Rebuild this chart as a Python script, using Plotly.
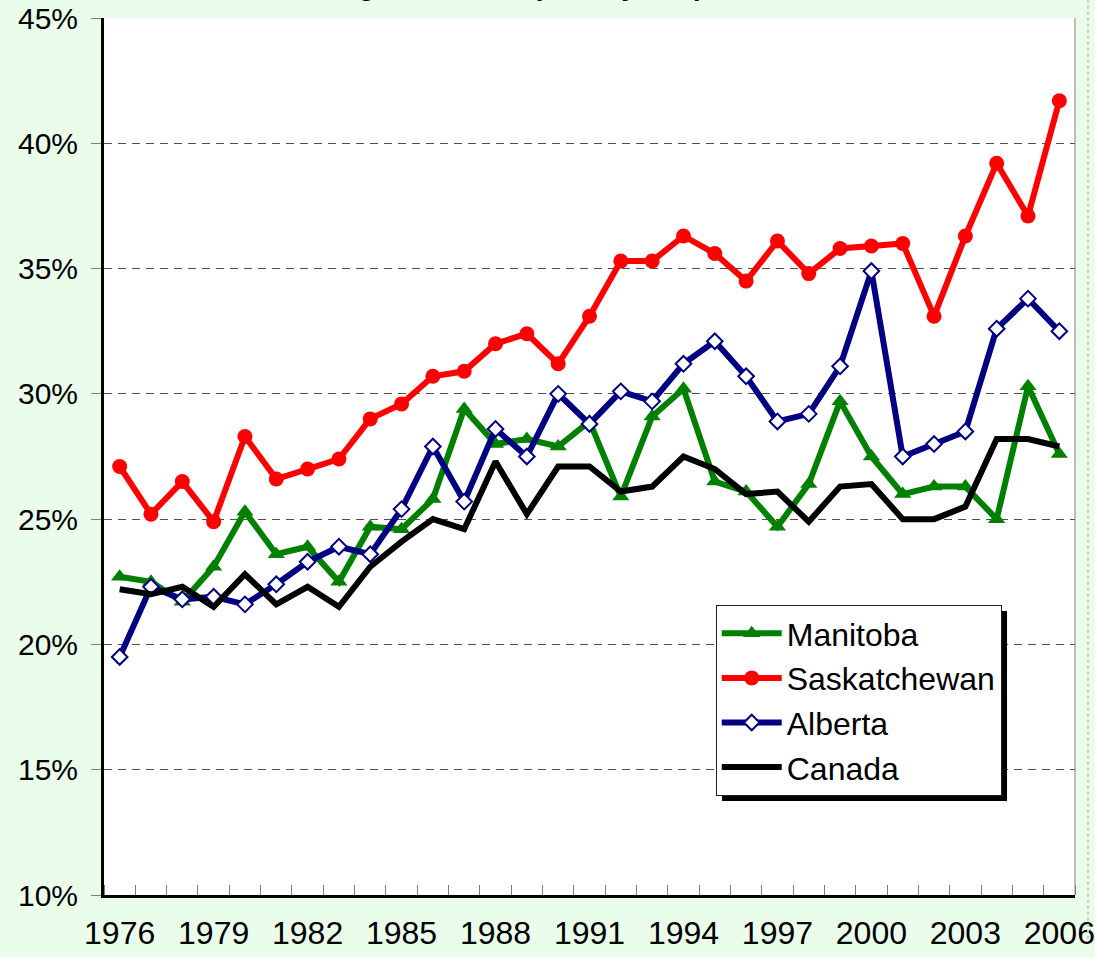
import plotly.graph_objects as go

years = list(range(1976, 2007))

manitoba = [22.7, 22.5, 21.7, 23.1, 25.3, 23.6, 23.9, 22.5, 24.7, 24.6, 25.8,
            29.4, 28.0, 28.2, 27.9, 28.9, 25.9, 29.1, 30.2, 26.5, 26.1,
            24.7, 26.4, 29.7, 27.5, 26.0, 26.3, 26.3, 25.0, 30.3, 27.6]
saskatchewan = [27.1, 25.2, 26.5, 24.9, 28.3, 26.6, 27.0, 27.4, 29.0, 29.6, 30.7,
                30.9, 32.0, 32.4, 31.2, 33.1, 35.3, 35.3, 36.3, 35.6, 34.5,
                36.1, 34.8, 35.8, 35.9, 36.0, 33.1, 36.3, 39.2, 37.1, 41.7]
alberta = [19.5, 22.3, 21.8, 21.9, 21.6, 22.4, 23.3, 23.9, 23.6, 25.4, 27.9,
           25.7, 28.6, 27.5, 30.0, 28.8, 30.1, 29.7, 31.2, 32.1, 30.7,
           28.9, 29.2, 31.1, 34.9, 27.5, 28.0, 28.5, 32.6, 33.8, 32.5]
canada = [22.2, 22.0, 22.3, 21.5, 22.8, 21.6, 22.3, 21.5, 23.1, 24.1, 25.0,
          24.6, 27.3, 25.2, 27.1, 27.1, 26.1, 26.3, 27.5, 27.0, 26.0,
          26.1, 24.9, 26.3, 26.4, 25.0, 25.0, 25.5, 28.2, 28.2, 27.9]

x_tick_years = [1976, 1979, 1982, 1985, 1988, 1991, 1994, 1997, 2000, 2003, 2006]
y_ticks = [10, 15, 20, 25, 30, 35, 40, 45]

title_text = "Percentage in School (15-24 years)"

FONT = "Liberation Sans, Arial, sans-serif"
BG = "#EAFCEA"

fig = go.Figure()
fig.add_trace(go.Scatter(
    x=years, y=manitoba, name="Manitoba", mode="lines+markers",
    line=dict(color="#008000", width=6),
    marker=dict(symbol="triangle-up", size=15, color="#008000"),
))
fig.add_trace(go.Scatter(
    x=years, y=saskatchewan, name="Saskatchewan", mode="lines+markers",
    line=dict(color="#FF0000", width=6),
    marker=dict(symbol="circle", size=15, color="#FF0000"),
))
fig.add_trace(go.Scatter(
    x=years, y=alberta, name="Alberta", mode="lines+markers",
    line=dict(color="#000080", width=6),
    marker=dict(symbol="diamond", size=12, color="white",
                line=dict(color="#000080", width=2)),
))
fig.add_trace(go.Scatter(
    x=years, y=canada, name="Canada", mode="lines",
    line=dict(color="black", width=6),
))

fig.update_layout(
    width=1095, height=957,
    margin=dict(l=104, r=20, t=18, b=62, autoexpand=False),
    paper_bgcolor=BG, plot_bgcolor="white",
    font=dict(family=FONT, size=30, color="black"),
    showlegend=True,
    legend=dict(
        x=0.630, y=0.3307, xanchor="left", yanchor="top",
        bgcolor="white", bordercolor="#222222", borderwidth=1,
        font=dict(family=FONT, size=32, color="black"),
        itemwidth=60, tracegroupgap=0,
    ),
    xaxis=dict(
        range=[1975.5, 2006.5], automargin=False,
        tickmode="array", tickvals=x_tick_years,
        ticktext=[str(v) for v in x_tick_years],
        ticks="", showgrid=False, zeroline=False,
        showline=True, linecolor="black", linewidth=3,
        ticklabelstandoff=8,
        tickfont=dict(family=FONT, size=32),
        minor=dict(tick0=1975.5, dtick=1, ticks="inside", ticklen=10,
                   tickcolor="#808080", tickwidth=1, showgrid=False),
    ),
    yaxis=dict(
        range=[10, 45], automargin=False,
        tickmode="array", tickvals=y_ticks,
        ticktext=[f"{v}%" for v in y_ticks],
        ticks="outside", ticklen=10, tickcolor="#808080", tickwidth=1,
        showgrid=True, gridcolor="#505050", gridwidth=1, griddash="8px,6px",
        zeroline=False,
        showline=True, linecolor="black", linewidth=3,
        ticklabelstandoff=7,
        tickfont=dict(family=FONT, size=30),
    ),
    annotations=[dict(
        text="<b>" + title_text + "</b>", xref="paper", yref="paper",
        x=0.62, y=1, xanchor="right", yanchor="bottom", yshift=15,
        showarrow=False, font=dict(family=FONT, size=28, color="black"),
    )],
    shapes=[
        dict(type="rect", xref="paper", yref="paper",
             x0=0.6365, x1=0.930, y0=0.1072, y1=0.3238,
             fillcolor="black", line=dict(width=0), layer="above"),
        dict(type="line", xref="paper", yref="paper", x0=1, x1=1, y0=0, y1=1,
             line=dict(color="#808080", width=1)),
        dict(type="line", xref="paper", yref="paper", x0=1.0134, x1=1.0134,
             y0=-0.05, y1=1.02, line=dict(color="#C8C8C8", width=2, dash="dot")),
    ],
)

fig.write_html(
    "out.html",
    config={"displayModeBar": False},
    post_script="document.body.style.margin='0';document.body.style.overflow='hidden';",
)
